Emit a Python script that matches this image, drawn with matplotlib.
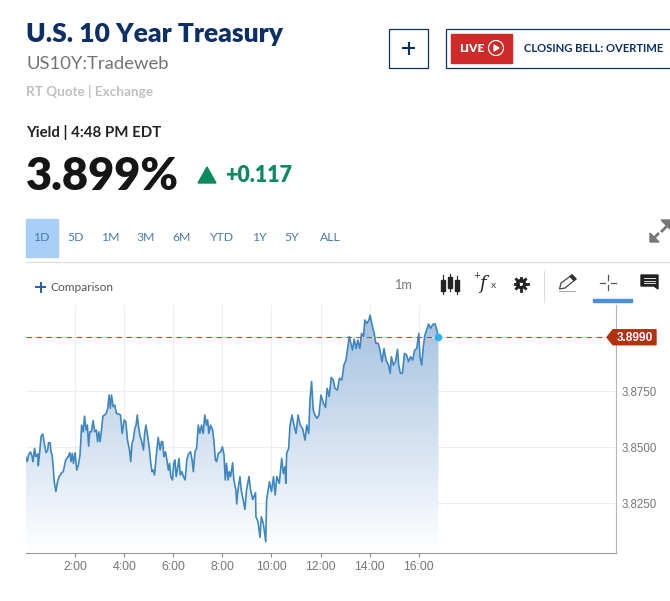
import numpy as np
import matplotlib
matplotlib.use("Agg")
import matplotlib.pyplot as plt
from matplotlib.colors import LinearSegmentedColormap
from matplotlib.patches import Rectangle, Polygon, Circle

# Minutes after midnight and the yield
minutes = [0, 3, 7, 11, 15, 17, 21, 24, 29, 30, 33, 37, 41, 44, 49, 53, 55, 59, 61, 64,
           67, 69, 73, 77, 81, 87, 91, 97, 103, 107, 110, 113, 116, 120, 124, 128, 132, 136, 140, 143,
           147, 150, 153, 156, 160, 164, 168, 172, 175, 178, 181, 184, 188, 192, 196, 200, 203, 206, 209, 213,
           217, 221, 227, 231, 235, 240, 244, 248, 253, 256, 259, 262, 266, 269, 272, 275, 279, 282, 287, 290,
           293, 297, 301, 305, 308, 311, 314, 319, 323, 328, 331, 334, 337, 341, 345, 348, 351, 354, 358, 361,
           364, 367, 371, 374, 377, 381, 385, 389, 393, 397, 402, 406, 409, 413, 417, 421, 425, 429, 433, 437,
           441, 444, 447, 451, 456, 459, 463, 466, 470, 476, 480, 484, 487, 490, 494, 497, 500, 505, 508, 513,
           515, 518, 523, 526, 531, 535, 539, 545, 549, 554, 561, 562, 567, 572, 575, 580, 586, 588, 595, 600,
           605, 609, 613, 619, 625, 629, 633, 635, 637, 642, 645, 650, 655, 660, 665, 670, 676, 682, 686, 691,
           694, 698, 702, 706, 711, 716, 721, 727, 732, 736, 741, 746, 751, 755, 761, 766, 772, 777, 782, 786,
           790, 794, 798, 802, 807, 811, 816, 820, 825, 828, 833, 838, 841, 845, 851, 855, 861, 865, 870, 875,
           880, 886, 890, 893, 898, 903, 908, 911, 915, 920, 925, 930, 935, 940, 945, 950, 955, 960, 963, 967,
           971, 975, 979, 984, 989, 995, 1000, 1004, 1008]
yields = [3.8454, 3.8435, 3.8469, 3.8478, 3.8457, 3.8435, 3.8494, 3.8457, 3.8469, 3.8417, 3.8469, 3.8549, 3.8558, 3.8524, 3.8475, 3.8487, 3.8519, 3.8519, 3.8479, 3.8464,
          3.8397, 3.8345, 3.8301, 3.8345, 3.8368, 3.8385, 3.8390, 3.8442, 3.8457, 3.8475, 3.8435, 3.8472, 3.8427, 3.8475, 3.8397, 3.8420, 3.8464, 3.8598, 3.8568, 3.8638,
          3.8576, 3.8598, 3.8504, 3.8568, 3.8568, 3.8618, 3.8568, 3.8576, 3.8524, 3.8568, 3.8524, 3.8568, 3.8638, 3.8643, 3.8650, 3.8673, 3.8732, 3.8673, 3.8732, 3.8680,
          3.8687, 3.8650, 3.8647, 3.8643, 3.8561, 3.8621, 3.8613, 3.8531, 3.8487, 3.8435, 3.8516, 3.8531, 3.8583, 3.8598, 3.8643, 3.8591, 3.8546, 3.8531, 3.8487, 3.8561,
          3.8598, 3.8554, 3.8501, 3.8427, 3.8390, 3.8397, 3.8375, 3.8472, 3.8543, 3.8487, 3.8524, 3.8524, 3.8457, 3.8479, 3.8435, 3.8397, 3.8427, 3.8368, 3.8353, 3.8427,
          3.8442, 3.8368, 3.8412, 3.8449, 3.8375, 3.8390, 3.8368, 3.8353, 3.8442, 3.8469, 3.8479, 3.8442, 3.8390, 3.8479, 3.8494, 3.8598, 3.8561, 3.8598, 3.8561, 3.8643,
          3.8598, 3.8621, 3.8561, 3.8598, 3.8576, 3.8531, 3.8442, 3.8435, 3.8472, 3.8479, 3.8501, 3.8464, 3.8353, 3.8427, 3.8353, 3.8390, 3.8368, 3.8430, 3.8353, 3.8308,
          3.8246, 3.8308, 3.8368, 3.8308, 3.8263, 3.8222, 3.8308, 3.8368, 3.8308, 3.8266, 3.8296, 3.8189, 3.8167, 3.8097, 3.8189, 3.8159, 3.8077, 3.8263, 3.8345, 3.8301,
          3.8368, 3.8286, 3.8368, 3.8338, 3.8449, 3.8382, 3.8412, 3.8338, 3.8472, 3.8494, 3.8591, 3.8643, 3.8598, 3.8561, 3.8643, 3.8598, 3.8583, 3.8531, 3.8598, 3.8561,
          3.8710, 3.8792, 3.8665, 3.8643, 3.8628, 3.8643, 3.8732, 3.8695, 3.8677, 3.8762, 3.8725, 3.8811, 3.8799, 3.8762, 3.8754, 3.8807, 3.8799, 3.8866, 3.8888, 3.8940,
          3.8993, 3.8963, 3.8933, 3.8981, 3.8940, 3.8978, 3.8940, 3.9007, 3.8993, 3.9067, 3.9052, 3.9067, 3.9089, 3.9052, 3.9007, 3.8963, 3.8963, 3.8933, 3.8881, 3.8940,
          3.8888, 3.8866, 3.8829, 3.8903, 3.8866, 3.8881, 3.8936, 3.8866, 3.8829, 3.8829, 3.8918, 3.8911, 3.8881, 3.8903, 3.8888, 3.8933, 3.8940, 3.9007, 3.8903, 3.8866,
          3.8948, 3.9000, 3.9022, 3.9049, 3.9030, 3.9049, 3.9049, 3.9022, 3.8990]
x_ticks = [120, 240, 360, 480, 600, 720, 840, 960]
x_labels = ["2:00", "4:00", "6:00", "8:00", "10:00", "12:00", "14:00", "16:00"]
y_ticks = [3.825, 3.85, 3.875]
y_labels = ["3.8250", "3.8500", "3.8750"]
last_price = 3.899
ranges = ["1D", "5D", "1M", "3M", "6M", "YTD", "1Y", "5Y", "ALL"]
range_x = [41, 75.5, 110.5, 145.5, 182, 222, 259, 292, 330]

W, H = 670, 601
NAVY = "#0b2f66"
plt.rcParams['font.family'] = ['Lato', 'DejaVu Sans']

fig = plt.figure(figsize=(W / 100, H / 100), dpi=100)

# Chart area
left, right, top, bottom = 26, 616, 305, 553
ax = fig.add_axes([left / W, 1 - bottom / H, (right - left) / W, (bottom - top) / H])
x_max, y_min, y_max = 1442, 3.8027, 3.9134

grad = LinearSegmentedColormap.from_list("fade", ["#ffffff", "#a4c1e0"])
im = ax.imshow(np.linspace(1, 0, 256).reshape(-1, 1), cmap=grad, aspect="auto",
               extent=[0, minutes[-1], y_min, max(yields)], zorder=1)
verts = [(minutes[0], y_min)] + list(zip(minutes, yields)) + [(minutes[-1], y_min)]
poly = Polygon(verts, closed=True, transform=ax.transData, fc="none", ec="none")
ax.add_patch(poly)
im.set_clip_path(poly)

ax.plot(minutes, yields, color="#3f87c2", lw=1.2, zorder=3)
ax.axhline(last_price, xmax=0.98, color="#f4e2dc", lw=0.8, zorder=2)
ax.axhline(last_price, xmax=0.98, color="#c2482a", lw=0.8, dashes=(5, 4), zorder=4)
ax.plot(minutes[-1], yields[-1], "o", color="#2bb3ee", ms=4.5, zorder=5)

ax.set_xlim(0, x_max)
ax.set_ylim(y_min, y_max)
ax.set_xticks(x_ticks, x_labels, family="Liberation Sans")
ax.set_yticks(y_ticks, y_labels, family="Liberation Sans")
ax.yaxis.tick_right()
ax.grid(color="#eeeeee", lw=0.8, zorder=0)
ax.set_axisbelow(True)
ax.tick_params(axis="x", length=3, color="#888888", labelcolor="#777777", labelsize=8.8, pad=3)
ax.tick_params(axis="y", length=0, labelcolor="#777777", labelsize=8.3, pad=4)
for s in ["top", "left"]:
    ax.spines[s].set_visible(False)
ax.spines["bottom"].set_color("#999999")
ax.spines["right"].set_color("#b5b5b5")

# Page furniture, in pixel coordinates
ui = fig.add_axes([0, 0, 1, 1], zorder=10)
ui.set_xlim(0, W)
ui.set_ylim(H, 0)
ui.axis("off")

ui.text(26, 34, "U.S. 10 Year Treasury", color=NAVY, fontsize=19, fontweight="heavy", va="center")
ui.text(26, 64, "US10Y:Tradeweb", color="#747474", fontsize=13.3, va="center")
ui.text(26, 92, "RT Quote | Exchange", color="#c0c0c0", fontsize=9.7, fontweight="bold", va="center")
ui.text(26, 132, "Yield | 4:48 PM EDT", color="#222222", fontsize=10.8, fontweight="bold", va="center")
ui.text(26, 176, "3.899%", color="#151515", fontsize=32.5, fontweight="heavy", va="center")
ui.add_patch(Polygon([(198, 183), (216, 183), (207, 167)], color="#0b8a5f"))
ui.text(225, 175, "+0.117", color="#0b8a5f", fontsize=15.5, fontweight="heavy", va="center")

# Buttons at the top right
ui.add_patch(Rectangle((389, 28.5), 39, 39, fc="white", ec=NAVY, lw=0.9))
ui.plot([403, 414], [48, 48], color=NAVY, lw=1.5)
ui.plot([408.5, 408.5], [42.5, 53.5], color=NAVY, lw=1.5)
ui.add_patch(Rectangle((446, 28.5), 240, 39, fc="white", ec=NAVY, lw=0.9))
ui.add_patch(Rectangle((451, 34), 61, 29, color="#cf2a27"))
ui.text(459, 48, "LIVE", color="white", fontsize=8.6, fontweight="heavy", va="center")
ui.add_patch(Circle((496, 48), 7.5, fc="none", ec="white", lw=0.9))
ui.add_patch(Polygon([(494, 45), (494, 51), (499, 48)], color="white"))
ui.text(524, 48, "CLOSING BELL: OVERTIME", color=NAVY, fontsize=8.1, fontweight="bold", va="center")

# Range tabs
ui.add_patch(Rectangle((26, 219), 32, 38, color="#a8cff8"))
for label, cx in zip(ranges, range_x):
    ui.text(cx, 237.5, label, color="#4a7bab", fontsize=8.8, ha="center", va="center")
ui.plot([26, W], [261.5, 261.5], color="#dddddd", lw=0.9)

# Expand arrows
ui.add_patch(Polygon([(650, 242), (650, 233), (659, 242)], color="#777777"))
ui.plot([653, 658], [239, 234], color="#777777", lw=2)
ui.add_patch(Polygon([(670, 220), (670, 229), (661, 220)], color="#777777"))
ui.plot([662, 667], [231, 226], color="#777777", lw=2)

# Toolbar
ui.plot([36, 45], [287, 287], color="#1f5fb4", lw=1.4)
ui.plot([40.5, 40.5], [282.5, 291.5], color="#1f5fb4", lw=1.4)
ui.text(50, 287.5, "Comparison", color="#555555", fontsize=8.6, va="center")
ui.text(403, 285, "1m", color="#777777", fontsize=9.2, ha="center", va="center")
for cx, y0, y1, w0, w1 in [(443, 280, 291, 275, 294), (450, 277, 288, 274, 291), (457, 280, 291, 276, 294)]:
    ui.plot([cx, cx], [w0, w1], color="#222222", lw=0.8)
    ui.add_patch(Rectangle((cx - 2, y0), 4, y1 - y0, color="#222222"))
ui.text(476.5, 276, "+", color="#222222", fontsize=6, ha="center", va="center", family="DejaVu Sans")
ui.text(484.5, 284, "$f$", color="#222222", fontsize=13, ha="center", va="center", math_fontfamily="dejavuserif")
ui.text(491, 286, "x", color="#444444", fontsize=7.5, va="center")

# Gear
gear_cx, gear_cy = 521, 284
for ang in np.arange(0, 360, 45):
    dx, dy = np.cos(np.radians(ang)), np.sin(np.radians(ang))
    ui.plot([gear_cx + 3.5 * dx, gear_cx + 6.5 * dx], [gear_cy + 3.5 * dy, gear_cy + 6.5 * dy], color="#222222", lw=2)
ui.add_patch(Circle((gear_cx, gear_cy), 3.6, fc="white", ec="#222222", lw=2.2))

ui.plot([543.5, 543.5], [271, 302], color="#dddddd", lw=0.8)

# Pencil
ui.add_patch(Polygon([(559.5, 289), (561, 283), (572, 275), (576, 279), (565, 288)], fc="white", ec="#444444", lw=0.9))
ui.add_patch(Polygon([(570, 276.5), (572, 275), (576, 279), (574, 280.5)], color="#333333"))
ui.plot([559, 575], [290.5, 290.5], color="#999999", lw=0.6)

# Crosshair
for xs, ys in [([600, 605], [282.5, 282.5]), ([611, 616], [282.5, 282.5]), ([608, 608], [275, 280]), ([608, 608], [285, 290])]:
    ui.plot(xs, ys, color="#555555", lw=0.9)
ui.add_patch(Rectangle((593, 299), 39, 2.5, color="#4a90e2"))

# Comment icon
ui.add_patch(Polygon([(641, 275), (658, 275), (658, 289), (654, 286), (641, 286)], color="#222222"))
for ly in [278, 280.5, 283]:
    ui.plot([644, 655], [ly, ly], color="white", lw=0.6)

# Last price flag
py = H - ax.transData.transform((0, last_price))[1]
ui.add_patch(Polygon([(607, py), (613, py - 7.5), (656, py - 7.5), (656, py + 7.5), (613, py + 7.5)],
                     color="#b5300f"))
ui.text(635, py + 0.3, "3.8990", color="white", fontsize=8.6, fontweight="bold", ha="center", va="center", family="Liberation Sans")

fig.savefig("out.png", dpi=100)
